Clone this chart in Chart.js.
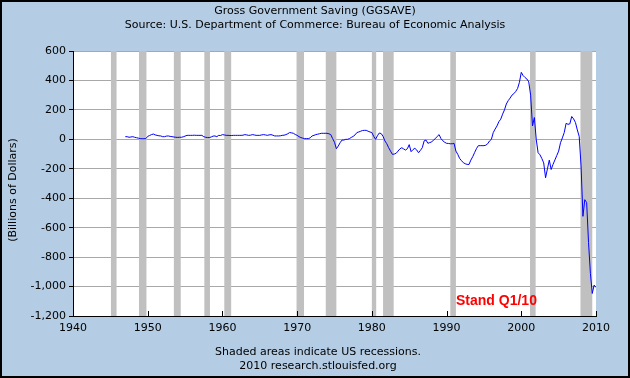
<!DOCTYPE html>
<html><head><meta charset="utf-8">
<script src="https://cdn.jsdelivr.net/npm/chart.js@4/dist/chart.umd.min.js"></script>
<style>html,body{margin:0;padding:0;background:#b4cde4;}canvas{display:block}</style>
</head><body>
<canvas id="c" width="630" height="378"></canvas>
<script>
const chartTitle = "Gross Government Saving (GGSAVE)";
const chartSubtitle = "Source: U.S. Department of Commerce: Bureau of Economic Analysis";
const yAxisTitle = "(Billions of Dollars)";
const footer1 = "Shaded areas indicate US recessions.";
const footer2 = "2010 research.stlouisfed.org";
const annotation = "Stand Q1/10";

const startYear = 1947; // quarterly from 1947 Q1
const values = [
  18, 18, 14, 16,   // 1947
  18, 14, 11, 8,    // 1948
  5, 4, 4, 5,       // 1949
  20, 26, 32, 36,   // 1950
  30, 27, 24, 23,   // 1951
  18, 18, 22, 23,   // 1952
  20, 18, 16, 14,   // 1953
  13, 14, 14, 17,   // 1954
  22, 27, 27, 27,   // 1955
  27, 28, 27, 27,   // 1956
  27, 27, 18, 14,   // 1957
  12, 12, 16, 22,   // 1958
  23, 18, 27, 26,   // 1959
  32, 30, 27, 27,   // 1960
  26, 26, 27, 27,   // 1961
  27, 27, 27, 28,   // 1962
  32, 30, 27, 28,   // 1963
  32, 30, 27, 27,   // 1964
  27, 30, 32, 30,   // 1965
  27, 30, 32, 28,   // 1966
  23, 23, 23, 24,   // 1967
  27, 28, 32, 38,   // 1968
  46, 44, 41, 33,   // 1969
  27, 18, 12, 8,    // 1970
  5, 5, 5, 10,      // 1971
  23, 27, 32, 35,   // 1972
  38, 41, 41, 41,   // 1973
  41, 38, 32, 5,    // 1974
  -20, -64, -46, -23, // 1975
  -5, -5, 0, 0,     // 1976
  5, 13, 20, 30,    // 1977
  46, 50, 55, 60,   // 1978
  61, 61, 55, 50,   // 1979
  46, 20, 0, 25,    // 1980
  43, 39, 20, -11,  // 1981
  -30, -57, -80, -102, // 1982
  -100, -95, -80, -65, // 1983
  -57, -65, -73, -64,  // 1984
  -36, -84, -70, -61,  // 1985
  -72, -91, -75, -57,  // 1986
  -10, -5, -27, -22,   // 1987
  -18, -5, 5, 20,      // 1988
  32, 5, -10, -20,     // 1989
  -27, -28, -30, -30,  // 1990
  -27, -80, -102, -130, // 1991
  -145, -159, -166, -170, // 1992
  -171, -141, -118, -90,  // 1993
  -63, -43, -43, -43,  // 1994
  -43, -40, -30, -11,  // 1995
  0, 46, 70, 91,       // 1996
  120, 137, 171, 200,  // 1997
  240, 263, 280, 300,  // 1998
  310, 325, 345, 387,  // 1999
  455, 433, 420, 410,  // 2000
  390, 300, 91, 148,   // 2001
  0, -91, -105, -130,  // 2002
  -160, -261, -200, -141, // 2003
  -205, -170, -140, -110, // 2004
  -80, -23, 10, 46,    // 2005
  109, 102, 105, 155,  // 2006
  139, 114, 64, 20,    // 2007
  -180, -523, -410, -430, // 2008
  -700, -910, -1047, -990, // 2009
  -1006                // 2010 Q1
];

const recessionStart = [1945.08, 1948.83, 1953.5, 1957.58, 1960.25, 1969.92, 1973.83, 1980.0, 1981.5, 1990.5, 2001.17, 2007.92];
const recessionEnd   = [1945.83, 1949.83, 1954.42, 1958.33, 1961.17, 1970.92, 1975.25, 1980.58, 1982.92, 1991.25, 2001.92, 2009.5];

const xTicks = [1940, 1950, 1960, 1970, 1980, 1990, 2000, 2010];
const yTicks = [600, 400, 200, 0, -200, -400, -600, -800, -1000, -1200];

const BG = '#b4cde4';
const FONT = 'DejaVu Sans';

const decor = {
  id: 'decor',
  beforeDraw(chart) {
    const {ctx, chartArea: a} = chart;
    ctx.save();
    ctx.fillStyle = BG;
    ctx.fillRect(0, 0, chart.width, chart.height);
    ctx.fillStyle = '#ffffff';
    ctx.fillRect(a.left, a.top, a.right - a.left, a.bottom - a.top);
    ctx.restore();
  },
  beforeDatasetsDraw(chart) {
    const {ctx, chartArea: a} = chart;
    const xs = chart.scales.x;
    ctx.save();
    ctx.fillStyle = '#c0c0c0';
    recessionStart.forEach((s, i) => {
      const x0 = xs.getPixelForValue(s);
      const x1 = xs.getPixelForValue(recessionEnd[i]);
      ctx.fillRect(x0, a.top, x1 - x0, a.bottom - a.top);
    });
    ctx.restore();
  },
  afterDraw(chart) {
    const {ctx, chartArea: a} = chart;
    const xs = chart.scales.x;
    ctx.save();
    // bottom axis & inward ticks
    ctx.strokeStyle = '#000';
    ctx.lineWidth = 1;
    ctx.beginPath();
    ctx.moveTo(a.left, Math.round(a.bottom) + 0.5);
    ctx.lineTo(a.right, Math.round(a.bottom) + 0.5);
    xTicks.forEach(v => {
      const px = Math.round(xs.getPixelForValue(v)) + 0.5;
      ctx.moveTo(px, a.bottom);
      ctx.lineTo(px, a.bottom - 5);
    });
    ctx.stroke();

    ctx.fillStyle = '#000';
    ctx.textAlign = 'center';
    ctx.textBaseline = 'middle';
    ctx.font = '11px "' + FONT + '"';
    ctx.fillText(chartTitle, 315, 11);
    ctx.fillText(chartSubtitle, 315, 25);
    ctx.fillText(footer1, 318, 352);
    ctx.fillText(footer2, 318, 366);

    ctx.save();
    ctx.translate(13, 190);
    ctx.rotate(-Math.PI / 2);
    ctx.fillText(yAxisTitle, 0, 0);
    ctx.restore();

    ctx.fillStyle = '#ff0000';
    ctx.textAlign = 'left';
    ctx.font = 'bold 14px "Liberation Sans"';
    ctx.fillText(annotation, 456, 301);

    // outer frame
    ctx.strokeStyle = '#000';
    ctx.lineWidth = 2;
    ctx.strokeRect(1, 1, chart.width - 2, chart.height - 2);
    ctx.restore();
  }
};

new Chart(document.getElementById('c'), {
  type: 'line',
  data: {
    datasets: [{
      data: values.map((v, i) => ({x: startYear + i / 4, y: v})),
      borderColor: '#0000ff',
      borderWidth: 1,
      pointRadius: 0,
      tension: 0,
      fill: false
    }]
  },
  options: {
    responsive: false,
    animation: false,
    layout: {padding: {left: 0, right: 34, top: 51, bottom: 0}},
    plugins: {legend: {display: false}, tooltip: {enabled: false}, title: {display: false}},
    scales: {
      x: {
        type: 'linear', min: 1940, max: 2010,
        afterBuildTicks(s) { s.ticks = xTicks.map(v => ({value: v})); },
        afterFit(s) { s.height = 62; },
        ticks: {font: {family: FONT, size: 11}, color: '#000', padding: 6, maxRotation: 0, autoSkip: false, callback: v => String(v)},
        grid: {display: false, drawTicks: false},
        border: {display: true, color: '#000', width: 1}
      },
      y: {
        min: -1200, max: 600,
        afterBuildTicks(s) { s.ticks = yTicks.map(v => ({value: v})); },
        afterFit(s) { s.width = 73; },
        ticks: {font: {family: FONT, size: 11}, color: '#000', padding: 3, callback: v => v.toLocaleString('en-US')},
        grid: {color: '#a8a8a8', tickColor: '#000', tickLength: 4},
        border: {display: true, color: '#000', width: 1}
      }
    }
  },
  plugins: [decor]
});
</script>
</body></html>
